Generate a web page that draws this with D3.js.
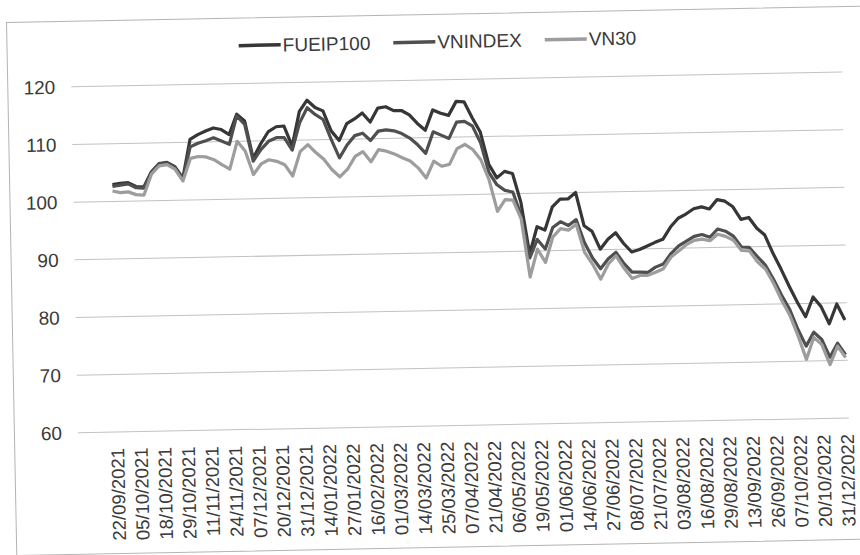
<!DOCTYPE html>
<html>
<head>
<meta charset="utf-8">
<script src="https://cdn.jsdelivr.net/npm/d3@7"></script>
<style>
  html, body { margin: 0; padding: 0; background: #fff; }
  text { font-family: "Liberation Sans", Arial, sans-serif; fill: #3a3a3a; }
</style>
</head>
<body>
<svg id="chart" width="860" height="555"></svg>
<script>
// tick labels on the category axis, one every 9 trading days
const tickLabels = [
  '22/09/2021', '05/10/2021', '18/10/2021', '29/10/2021', '11/11/2021', '24/11/2021',
  '07/12/2021', '20/12/2021', '31/12/2021', '14/01/2022', '27/01/2022', '16/02/2022',
  '01/03/2022', '14/03/2022', '25/03/2022', '07/04/2022', '21/04/2022', '06/05/2022',
  '19/05/2022', '01/06/2022', '14/06/2022', '27/06/2022', '08/07/2022', '21/07/2022',
  '03/08/2022', '16/08/2022', '29/08/2022', '13/09/2022', '26/09/2022', '07/10/2022',
  '20/10/2022', '31/12/2022'
]
const labelEvery = 9

// values read every 3rd trading day (last one is day 279)
const sampleDay = [...d3.range(0, 279, 3), 279]

const fueip100 = [
  102.9, 103.1, 103.2, 102.5, 102.4, 105.0, 106.4, 106.6, 105.8, 103.8,
  110.5, 111.3, 111.9, 112.4, 112.1, 111.2, 114.7, 113.5, 107.0, 109.5,
  111.6, 112.4, 112.5, 109.0, 115.0, 116.9, 115.6, 115.0, 111.5, 109.8,
  112.7, 113.5, 114.5, 112.9, 115.3, 115.5, 114.8, 114.8, 114.0, 112.5,
  111.3, 114.8, 114.2, 113.8, 116.2, 116.1, 113.3, 110.8, 105.2, 102.8,
  103.9, 103.5, 98.5, 89.5, 94.2, 93.6, 97.6, 98.9, 98.9, 100.0,
  94.2, 93.2, 90.1, 91.8, 92.9, 91.0, 89.5, 89.9, 90.5, 91.1,
  91.6, 93.7, 95.2, 95.9, 96.8, 97.1, 96.7, 98.3, 98.0, 97.0,
  94.8, 95.1, 93.2, 92.0, 88.8, 86.0, 83.0, 80.2, 77.7, 81.1,
  79.4, 76.4, 79.8, 77.0
]
const vnindex = [
  102.6, 102.8, 103.0, 102.3, 102.2, 104.9, 106.3, 106.5, 105.7, 103.7,
  109.2, 109.8, 110.2, 110.7, 110.1, 109.5, 114.4, 112.9, 106.5, 108.5,
  109.9, 110.5, 110.5, 108.3, 113.0, 115.6, 114.4, 113.5, 110.0, 106.8,
  109.0, 110.6, 111.0, 109.7, 111.3, 111.5, 111.3, 110.8, 110.0, 108.8,
  107.3, 111.0, 110.4, 109.8, 112.6, 112.7, 111.9, 109.0, 103.8, 101.6,
  100.6, 100.3, 96.2, 88.8, 92.0, 90.3, 94.0, 95.0, 94.3, 95.3,
  91.3, 88.6, 86.7, 88.4, 89.5, 87.5, 86.0, 86.0, 85.9, 86.8,
  87.3, 89.1, 90.4, 91.2, 92.0, 92.3, 91.8, 93.2, 92.8, 91.9,
  90.0, 89.9, 88.3, 86.8, 84.3, 81.5, 79.0, 75.5, 72.6, 75.0,
  73.7, 70.6, 73.0, 71.0
]
const vn30 = [
  101.8, 101.5, 101.6, 101.1, 101.0, 104.6, 106.0, 106.2, 105.4, 103.3,
  107.2, 107.5, 107.4, 106.9, 106.0, 105.2, 110.0, 108.3, 104.2, 106.0,
  106.7, 106.4, 105.8, 103.8, 108.0, 109.2, 107.8, 106.6, 104.8, 103.5,
  104.8, 107.0, 107.8, 106.0, 108.1, 107.8, 107.3, 106.6, 106.0, 104.8,
  103.0, 105.9, 105.0, 105.3, 108.0, 108.7, 107.8, 106.0, 102.5, 97.0,
  99.0, 98.9, 95.6, 85.5, 90.3, 88.0, 92.4, 93.8, 93.5, 94.5,
  89.6, 87.5, 84.9, 87.5, 88.9, 86.7, 84.9, 85.4, 85.4, 85.9,
  86.5, 88.5, 89.5, 90.6, 91.3, 91.5, 91.2, 92.3, 91.9, 91.2,
  89.4, 89.3, 87.4, 86.1, 83.6, 80.6, 78.0, 74.4, 70.3, 74.1,
  72.8, 69.3, 72.5, 70.5
]

const yTicks = [60, 70, 80, 90, 100, 110, 120]

const seriesNames = ['FUEIP100', 'VNINDEX', 'VN30']
const seriesColors = ['#363636', '#4f4f4f', '#9d9d9d']

const series = [fueip100, vnindex, vn30].map((vals, k) => ({
  name: seriesNames[k],
  color: seriesColors[k],
  points: vals.map((v, i) => ({ day: sampleDay[i], v }))
}))

const width = 860
const height = 555
const plotLeft = 75
const plotRight = 844
const plotTop = 80
const plotBottom = 426

const svg = d3.select('#chart')

svg.append('rect')
    .attr('width', width)
    .attr('height', height)
    .attr('fill', '#fff')

// the scanned page sits slightly tilted
const page = svg.append('g')
    .attr('transform', 'rotate(-1.1 430 277)')

page.append('rect')
    .attr('x', 11.5)
    .attr('y', 14.5)
    .attr('width', 880)
    .attr('height', 533)
    .attr('fill', '#fff')
    .attr('stroke', '#b4b4b4')

const x = d3.scaleLinear()
    .domain([-15, 279])
    .range([plotLeft, plotRight])

const y = d3.scaleLinear()
    .domain([60, 120])
    .range([plotBottom, plotTop])

// gridlines
page.append('g')
  .selectAll('line')
  .data(yTicks)
  .join('line')
    .attr('x1', plotLeft)
    .attr('x2', plotRight + 2)
    .attr('y1', d => y(d))
    .attr('y2', d => y(d))
    .attr('stroke', '#c2c2c2')
    .attr('stroke-width', 1)

// y labels
page.append('g')
  .selectAll('text')
  .data(yTicks)
  .join('text')
    .attr('x', 59)
    .attr('y', d => y(d))
    .attr('dy', '0.35em')
    .attr('text-anchor', 'end')
    .attr('font-size', 19)
    .text(d => d)

// x labels, rotated
page.append('g')
  .selectAll('text')
  .data(tickLabels)
  .join('text')
    .attr('transform', (d, i) => `translate(${x(i * labelEvery)},442) rotate(-90)`)
    .attr('dy', '0.36em')
    .attr('text-anchor', 'end')
    .attr('font-size', 18.5)
    .text(d => d)

// lines
const line = d3.line()
    .x(d => x(d.day))
    .y(d => y(d.v))

page.append('g')
  .selectAll('path')
  .data(series)
  .join('path')
    .attr('d', d => line(d.points))
    .attr('fill', 'none')
    .attr('stroke', d => d.color)
    .attr('stroke-width', 3.2)
    .attr('stroke-linejoin', 'round')

// legend
const legendY = 42
const legendLine = 42
const legendGap = 2
const legendSpacing = 23
const legend = page.append('g')
const items = legend.selectAll('g')
  .data(series)
  .join('g')

items.append('line')
    .attr('x1', 0)
    .attr('x2', legendLine)
    .attr('y1', 0)
    .attr('y2', 0)
    .attr('stroke', d => d.color)
    .attr('stroke-width', 3.5)

items.append('text')
    .attr('x', legendLine + legendGap)
    .attr('dy', '0.35em')
    .attr('font-size', 19)
    .text(d => d.name)

let offset = 0
const widths = []
items.each(function () {
  widths.push(legendLine + legendGap + d3.select(this).select('text').node().getComputedTextLength())
})
const total = d3.sum(widths) + legendSpacing * (widths.length - 1)
items.attr('transform', (d, i) => {
  const tx = offset
  offset += widths[i] + legendSpacing
  return `translate(${tx},0)`
})
legend.attr('transform', `translate(${442 - total / 2},${legendY})`)
</script>
</body>
</html>
